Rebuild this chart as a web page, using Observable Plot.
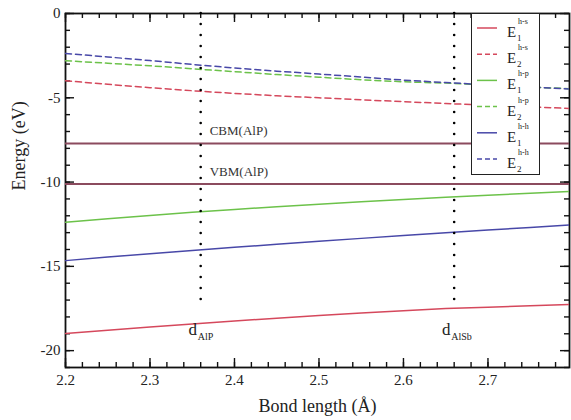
<!DOCTYPE html>
<html>
<head>
<meta charset="utf-8">
<script src="https://cdn.jsdelivr.net/npm/d3@7"></script>
<script src="https://cdn.jsdelivr.net/npm/@observablehq/plot@0.6"></script>
<style>
  body { margin: 0; background: #fff; }
  #wrap { position: relative; width: 571px; height: 420px; font-family: "Liberation Serif", "Times New Roman", Times, serif; }
  #legend { position: absolute; left: 471px; top: 13px; width: 69px; height: 162px; box-sizing: border-box; border: 1.5px solid #222; background: #fff; }
</style>
</head>
<body>
<div id="wrap"></div>
<script>
// ---- data ----
const bondLength = [2.20, 2.25, 2.30, 2.35, 2.40, 2.45, 2.50, 2.55, 2.60, 2.65, 2.70, 2.75, 2.80];
const E1_hs = [-18.99, -18.79, -18.60, -18.42, -18.24, -18.08, -17.92, -17.77, -17.63, -17.50, -17.42, -17.34, -17.26];
const E2_hs = [-3.99, -4.20, -4.40, -4.58, -4.74, -4.88, -5.00, -5.12, -5.23, -5.34, -5.44, -5.54, -5.64];
const E1_hp = [-12.39, -12.18, -11.98, -11.79, -11.62, -11.46, -11.31, -11.17, -11.03, -10.90, -10.78, -10.66, -10.55];
const E2_hp = [-2.80, -2.95, -3.10, -3.28, -3.45, -3.62, -3.78, -3.93, -4.05, -4.13, -4.25, -4.36, -4.47];
const E1_hh = [-14.66, -14.45, -14.25, -14.06, -13.87, -13.69, -13.51, -13.34, -13.17, -13.01, -12.85, -12.69, -12.53];
const E2_hh = [-2.37, -2.58, -2.79, -3.02, -3.23, -3.42, -3.59, -3.77, -3.95, -4.10, -4.23, -4.36, -4.49];
const bandEdges = [{label: "CBM(AlP)", y: -7.71}, {label: "VBM(AlP)", y: -10.11}];
const bondMarkers = [{x: 2.36, sub: "AlP"}, {x: 2.66, sub: "AlSb"}];
const xTicks = [2.2, 2.3, 2.4, 2.5, 2.6, 2.7];
const yTicks = [-20, -15, -10, -5, 0];
const seriesDefs = [
  {name: "E1 h-s", E: "1", sup: "h-s", values: E1_hs, color: "#d5485c", dash: null},
  {name: "E2 h-s", E: "2", sup: "h-s", values: E2_hs, color: "#d5485c", dash: "6,4"},
  {name: "E1 h-p", E: "1", sup: "h-p", values: E1_hp, color: "#6cc24a", dash: null},
  {name: "E2 h-p", E: "2", sup: "h-p", values: E2_hp, color: "#6cc24a", dash: "6,4"},
  {name: "E1 h-h", E: "1", sup: "h-h", values: E1_hh, color: "#4848a8", dash: null},
  {name: "E2 h-h", E: "2", sup: "h-h", values: E2_hh, color: "#4848a8", dash: "6,4"}
];

// ---- layout ----
const FONT = "'Liberation Serif', 'Times New Roman', Times, serif";
const W = 571, H = 420, mL = 65, mR = 2, mT = 13, mB = 53;
const innerW = W - mL - mR, innerH = H - mT - mB;
const xDom = [2.2, 2.7965], yDom = [-21, 0];
const kx = (xDom[1] - xDom[0]) / innerW;   // data units per pixel
const ky = (yDom[1] - yDom[0]) / innerH;
const xMinor = d3.range(2.2, 2.795, 0.02).map(v => +v.toFixed(2));
const yMinor = d3.range(-21, 0.5, 1);
const annotY = -19.05, dotEnd = -17.5;

const lineMarks = seriesDefs.map(s => Plot.line(
  bondLength.map((x, i) => ({x, y: s.values[i]})),
  {x: "x", y: "y", stroke: s.color, strokeWidth: 1.5, strokeDasharray: s.dash, clip: true}
));

const tickColor = "#111";
const tw = 1.4;
const chart = Plot.plot({
  width: W, height: H,
  marginLeft: mL, marginRight: mR, marginTop: mT, marginBottom: mB,
  x: {domain: xDom},
  y: {domain: yDom},
  style: {fontFamily: FONT, fontSize: "15px", color: "#222", background: "white"},
  marks: [
    Plot.frame({stroke: "#111", strokeWidth: 1.8}),
    Plot.ruleX(xMinor, {x: d => d, y1: yDom[0], y2: yDom[0] + 5 * ky, stroke: tickColor, strokeWidth: tw}),
    Plot.ruleX(xTicks, {x: d => d, y1: yDom[0], y2: yDom[0] + 9 * ky, stroke: tickColor, strokeWidth: tw}),
    Plot.ruleX(xMinor, {x: d => d, y1: yDom[1], y2: yDom[1] - 5 * ky, stroke: tickColor, strokeWidth: tw}),
    Plot.ruleX(xTicks, {x: d => d, y1: yDom[1], y2: yDom[1] - 9 * ky, stroke: tickColor, strokeWidth: tw}),
    Plot.ruleY(yMinor, {y: d => d, x1: xDom[0], x2: xDom[0] + 5 * kx, stroke: tickColor, strokeWidth: tw}),
    Plot.ruleY(yTicks, {y: d => d, x1: xDom[0], x2: xDom[0] + 9 * kx, stroke: tickColor, strokeWidth: tw}),
    Plot.ruleY(yMinor, {y: d => d, x1: xDom[1], x2: xDom[1] - 5 * kx, stroke: tickColor, strokeWidth: tw}),
    Plot.ruleY(yTicks, {y: d => d, x1: xDom[1], x2: xDom[1] - 9 * kx, stroke: tickColor, strokeWidth: tw}),
    Plot.ruleY(bandEdges, {y: "y", stroke: "#8b4b5e", strokeWidth: 2}),
    ...lineMarks,
    Plot.ruleX(bondMarkers, {x: "x", y1: 0, y2: dotEnd, stroke: "black", strokeWidth: 2.6, strokeDasharray: "0,11", strokeLinecap: "round"}),
    Plot.text(bandEdges, {x: () => 2.36, y: "y", text: "label", dx: 9, dy: -8, textAnchor: "start", lineAnchor: "bottom", fontSize: 13, fill: "#333"}),
    Plot.text(bondMarkers, {x: "x", y: () => annotY, text: () => "d", dx: -8, textAnchor: "middle", lineAnchor: "bottom", fontSize: 17, fill: "#222"}),
    Plot.text(bondMarkers, {x: "x", y: () => annotY, text: "sub", dx: -3, dy: 5, textAnchor: "start", lineAnchor: "bottom", fontSize: 10, fill: "#222"}),
    Plot.axisX(xTicks, {tickSize: 0, tickPadding: 7, tickFormat: d => d.toFixed(1), label: null, fontSize: 15}),
    Plot.axisY(yTicks, {tickSize: 0, tickPadding: 5, label: null, tickFormat: d => d === 0 ? "0" : String(d), fontSize: 15}),
    Plot.text(["Bond length (Å)"], {frameAnchor: "bottom", dy: 44, lineAnchor: "bottom", fontSize: 18, fill: "#222"}),
    Plot.text(["Energy (eV)"], {frameAnchor: "left", dx: -46, rotate: -90, lineAnchor: "middle", fontSize: 18, fill: "#222"})
  ]
});

const wrap = document.getElementById("wrap");
wrap.appendChild(chart);

// ---- legend ----
const legend = document.createElement("div");
legend.id = "legend";
const ns = "http://www.w3.org/2000/svg";
const lsvg = document.createElementNS(ns, "svg");
lsvg.setAttribute("width", 66);
lsvg.setAttribute("height", 159);
lsvg.style.display = "block";
function addText(x, y, size, str) {
  const t = document.createElementNS(ns, "text");
  t.setAttribute("x", x); t.setAttribute("y", y);
  t.setAttribute("font-family", FONT);
  t.setAttribute("font-size", size); t.setAttribute("fill", "#222");
  t.textContent = str;
  lsvg.appendChild(t);
}
seriesDefs.forEach((s, i) => {
  const cy = 14 + i * 26.2;
  const ln = document.createElementNS(ns, "line");
  ln.setAttribute("x1", 5); ln.setAttribute("x2", 25);
  ln.setAttribute("y1", cy); ln.setAttribute("y2", cy);
  ln.setAttribute("stroke", s.color); ln.setAttribute("stroke-width", 1.5);
  if (s.dash) ln.setAttribute("stroke-dasharray", "5,3");
  lsvg.appendChild(ln);
  addText(35, cy + 9, 15, "E");
  addText(45, cy + 13, 9, s.E);
  addText(46, cy - 4, 8, s.sup);
});
legend.appendChild(lsvg);
wrap.appendChild(legend);
</script>
</body>
</html>
